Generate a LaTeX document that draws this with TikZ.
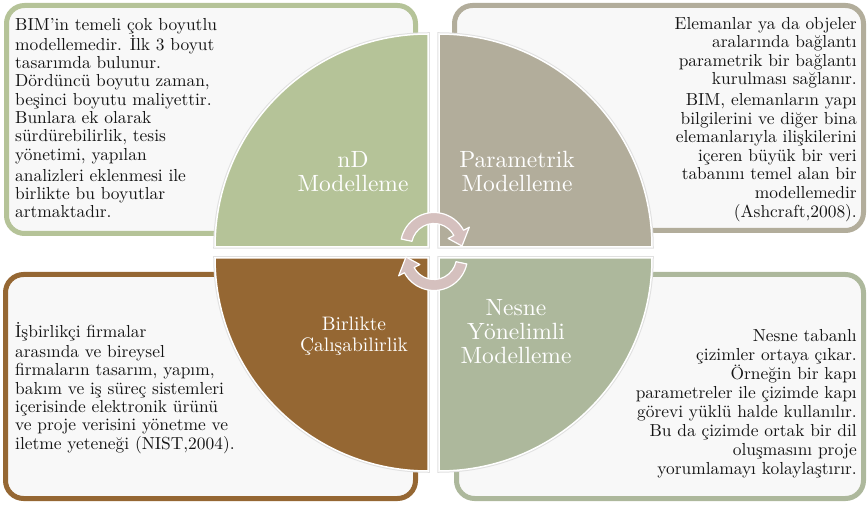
\documentclass[tikz,border=0pt]{standalone}
\usepackage{fontspec}
\setmainfont{lmroman10-regular.otf}
\definecolor{ndgreen}{HTML}{B5C398}
\definecolor{paramgray}{HTML}{B2AD9B}
\definecolor{interbrown}{HTML}{956733}
\definecolor{objsage}{HTML}{ADB89C}
\definecolor{arrowpink}{HTML}{D5C0BE}
\definecolor{panelfill}{HTML}{F8F8F8}
\begin{document}
\begin{tikzpicture}[x=1pt,y=1pt,
  panel/.style={line width=5pt, rounded corners=18pt, fill=panelfill},
  quartershade/.style={draw=black!12, line width=3.5pt},
  quarter/.style={draw=white, line width=1.5pt},
  body/.style={inner sep=0pt, text=black!92, font=\fontsize{17.4}{18.3}\selectfont},
  title/.style={inner sep=0pt, text=white, align=center, font=\fontsize{23.5}{24}\selectfont},
  turn/.style={fill=arrowpink, draw=white, line width=1.2pt, line join=round},
]
\useasboundingbox (0,0) rectangle (868,504);

% text panels
\draw[panel, draw=ndgreen]    (6.5,270.5) rectangle (415.5,498.5);
\draw[panel, draw=paramgray]  (454.5,273.5) rectangle (863.5,498.5);
\draw[panel, draw=interbrown] (5.5,5.5) rectangle (415.5,229.5);
\draw[panel, draw=objsage]    (456.5,5.5) rectangle (863.5,229.5);

% four quarter discs
\path[quartershade] (428,257) -- (215,257) arc[start angle=180, end angle=90, radius=213] -- cycle;
\path[quartershade] (439,257) -- (439,470) arc[start angle=90, end angle=0, radius=213] -- cycle;
\path[quartershade] (439,246) -- (652,246) arc[start angle=0, end angle=-90, radius=213] -- cycle;
\path[quartershade] (428,246) -- (428,33) arc[start angle=270, end angle=180, radius=213] -- cycle;
\fill[ndgreen, quarter]    (428,257) -- (215,257) arc[start angle=180, end angle=90, radius=213] -- cycle;
\fill[paramgray, quarter]  (439,257) -- (439,470) arc[start angle=90, end angle=0, radius=213] -- cycle;
\fill[objsage, quarter]    (439,246) -- (652,246) arc[start angle=0, end angle=-90, radius=213] -- cycle;
\fill[interbrown, quarter] (428,246) -- (428,33) arc[start angle=270, end angle=180, radius=213] -- cycle;

% circular arrows in the middle
\begin{scope}[shift={(434,258)}]
  \path[turn] (168:33.5) arc[start angle=168, end angle=28, radius=33.5]
    -- (28:40) -- (0:28) -- (28:16) -- (28:22.5)
    arc[start angle=28, end angle=168, radius=22.5] -- cycle;
\end{scope}
\begin{scope}[shift={(434,247)}]
  \path[turn] (348:33.5) arc[start angle=348, end angle=208, radius=33.5]
    -- (208:40) -- (180:28) -- (208:16) -- (208:22.5)
    arc[start angle=208, end angle=348, radius=22.5] -- cycle;
\end{scope}

% quarter titles
\node[title] (nd) at (353,332.5) {nD\\Modelleme};
\node[title] (param) at (517,332.5) {Parametrik\\Modelleme};
\node[title, font=\fontsize{19.5}{21}\selectfont] (inter) at (354,167.5) {Birlikte\\Çalışabilirlik};
\node[title] (obj) at (516,172.5) {Nesne\\Yönelimli\\Modelleme};

% descriptions
\node[body, anchor=north west, align=left] (ndtext) at (15,490.5) {%
\rule{0pt}{17pt}BIM’in temeli çok boyutlu\\
modellemedir. İlk 3 boyut\\
tasarımda bulunur.\\
Dördüncü boyutu zaman,\\
beşinci boyutu maliyettir.\\
Bunlara ek olarak\\
sürdürebilirlik, tesis\\
yönetimi, yapılan\\[3pt]
analizleri eklenmesi ile\\
birlikte bu boyutlar\\
artmaktadır.};

\node[body, anchor=north east, align=right, font=\fontsize{17.4}{18.6}\selectfont] (paramtext) at (857,492) {%
\rule{0pt}{17pt}Elemanlar ya da objeler\\
aralarında bağlantı\\
parametrik bir bağlantı\\
kurulması sağlanır.\\[2pt]
BIM, elemanların yapı\\
bilgilerini ve diğer bina\\
elemanlarıyla ilişkilerini\\
içeren büyük bir veri\\
tabanını temel alan bir\\
modellemedir\\
(Ashcraft,2008).};

\node[body, anchor=north west, align=left] (intertext) at (15,184) {%
\rule{0pt}{17pt}İşbirlikçi firmalar\\[2pt]
arasında ve bireysel\\
firmaların tasarım, yapım,\\
bakım ve iş süreç sistemleri\\
içerisinde elektronik ürünü\\
ve proje verisini yönetme ve\\
iletme yeteneği (NIST,2004).};

\node[body, anchor=north east, align=right, font=\fontsize{17.4}{19}\selectfont] (objtext) at (857,180) {%
\rule{0pt}{17pt}Nesne tabanlı\\
çizimler ortaya çıkar.\\
Örneğin bir kapı\\
parametreler ile çizimde kapı\\
görevi yüklü halde kullanılır.\\
Bu da çizimde ortak bir dil\\
oluşmasını proje\\
yorumlamayı kolaylaştırır.};
\end{tikzpicture}
\end{document}
